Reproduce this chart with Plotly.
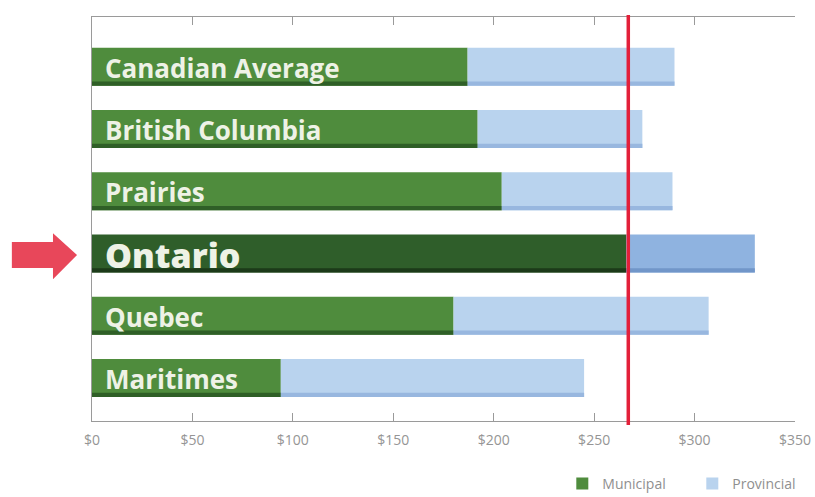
import plotly.graph_objects as go

regions = ["Canadian Average", "British Columbia", "Prairies", "Ontario", "Quebec", "Maritimes"]
municipal = [187, 192, 204, 266, 180, 94]
provincial = [103, 82, 85, 64, 127, 151]
ontario_reference = 267
tick_vals = [0, 50, 100, 150, 200, 250, 300, 350]
tick_text = ["$0", "$50", "$100", "$150", "$200", "$250", "$300", "$350"]

is_ont = [r == "Ontario" for r in regions]
green = ["#2f5e2a" if o else "#4f8c3d" for o in is_ont]
green_edge = ["#1c3a19" if o else "#2f5f27" for o in is_ont]
blue = ["#8fb3e0" if o else "#b9d3ee" for o in is_ont]
blue_edge = ["#7196c9" if o else "#98b7df" for o in is_ont]

BAR_W = 0.61
EDGE_W = 0.07

fig = go.Figure()
fig.add_trace(go.Bar(
    y=regions, x=municipal, orientation="h", name="Municipal",
    marker=dict(color=green, line=dict(width=0)), width=BAR_W,
))
fig.add_trace(go.Bar(
    y=regions, x=provincial, base=municipal, orientation="h", name="Provincial",
    marker=dict(color=blue, line=dict(width=0)), width=BAR_W,
))
# darker lower edge for the bevelled look
fig.add_trace(go.Bar(
    y=regions, x=municipal, orientation="h", showlegend=False, hoverinfo="skip",
    marker=dict(color=green_edge, line=dict(width=0)),
    width=EDGE_W, offset=BAR_W / 2 - EDGE_W,
))
fig.add_trace(go.Bar(
    y=regions, x=provincial, base=municipal, orientation="h", showlegend=False,
    hoverinfo="skip", marker=dict(color=blue_edge, line=dict(width=0)),
    width=EDGE_W, offset=BAR_W / 2 - EDGE_W,
))

for r, o in zip(regions, is_ont):
    fig.add_annotation(
        x=0, y=r, xref="x", yref="y", text=r, showarrow=False,
        xanchor="left", yanchor="middle", xshift=11, yshift=-1,
        font=dict(family="Open Sans", size=34 if o else 26, color="#eef2e6",
                  weight=800 if o else 700),
    )

fig.add_shape(type="line", xref="x", yref="paper",
              x0=ontario_reference, x1=ontario_reference, y0=-0.01, y1=1.005,
              line=dict(color="#e3203a", width=3.5))

# red pointer arrow next to Ontario
fig.add_shape(type="path", xref="paper", yref="paper",
              path="M -0.114 0.379 L -0.0555 0.379 L -0.0555 0.351 L -0.0213 0.411 "
                   "L -0.0555 0.465 L -0.0555 0.443 L -0.114 0.443 Z",
              fillcolor="#e8475a", line=dict(width=0), layer="above")

fig.update_layout(
    width=815, height=497,
    margin=dict(l=92, r=20, t=17, b=76, autoexpand=False),
    paper_bgcolor="white", plot_bgcolor="white",
    barmode="overlay",
    showlegend=True,
    legend=dict(orientation="h", x=0.669, xanchor="left", y=-0.156, yanchor="middle",
                font=dict(family="Open Sans", size=14, color="#8f8f8f"),
                traceorder="normal", itemwidth=30,
                entrywidth=85, entrywidthmode="pixels"),
    xaxis=dict(range=[0, 350], tickvals=tick_vals, ticktext=tick_text,
               showgrid=False, zeroline=False, showline=True, linecolor="#9a9a9a",
               linewidth=1, mirror="ticks", ticks="inside", ticklen=8,
               tickcolor="#9a9a9a", automargin=False, ticklabelstandoff=6,
               tickfont=dict(family="Open Sans", size=14, color="#959595")),
    yaxis=dict(range=[5.69, -0.80], showticklabels=False, showgrid=False,
               zeroline=False, showline=True, linecolor="#9a9a9a", linewidth=1,
               ticks="", automargin=False),
)

fig.write_html("out.html", config={"displayModeBar": False},
               post_script="document.body.style.margin='0';")
